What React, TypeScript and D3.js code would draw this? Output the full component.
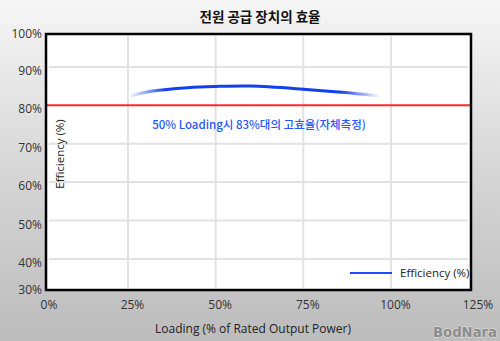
import React from "react";
import * as d3 from "d3";

const loading = [26, 32, 42, 50, 60, 75, 86, 96];
const efficiency = [82.5, 83.7, 84.6, 84.9, 85.0, 84.2, 83.4, 82.5];
const xTicks = [0, 25, 50, 75, 100, 125];
const yTicks = [30, 40, 50, 60, 70, 80, 90, 100];
const threshold = 80;
const title = "전원 공급 장치의 효율";
const note = "50% Loading시 83%대의 고효율(자체측정)";
const xTitle = "Loading (% of Rated Output Power)";
const yTitle = "Efficiency (%)";
const legendLabel = "Efficiency (%)";

const W = 500;
const H = 341;
const frame = { x0: 46, x1: 471, y0: 34, y1: 290 };
const font = "'Open Sans', 'Noto Sans', sans-serif";
const krFont = "'Noto Sans CJK KR', 'Open Sans', sans-serif";

export default function App() {
  const x = d3.scaleLinear().domain([0, 125]).range([40.3, 478.6]);
  const y = d3.scaleLinear().domain([30, 100]).range([297.3, 28.5]);
  const pts = loading.map((l, i) => [l, efficiency[i]] as [number, number]);
  const line = d3
    .line<[number, number]>()
    .x((d) => x(d[0]))
    .y((d) => y(d[1]))
    .curve(d3.curveCatmullRom.alpha(0.5));
  const clampX = (v: number) => Math.min(Math.max(v, 49), 478);
  const clampY = (v: number) => Math.min(Math.max(v, 34), 290);

  return (
    <svg
      width={W}
      height={H}
      style={{ position: "absolute", left: 0, top: 0 }}
      xmlns="http://www.w3.org/2000/svg"
    >
      <defs>
        <linearGradient id="bg" x1="0" y1="0" x2="0" y2="1">
          <stop offset="0" stopColor="#f6f6f6" />
          <stop offset="0.5" stopColor="#d6d6d6" />
          <stop offset="1" stopColor="#bcbcbc" />
        </linearGradient>
        <linearGradient
          id="curve"
          gradientUnits="userSpaceOnUse"
          x1={x(loading[0])}
          y1={0}
          x2={x(loading[loading.length - 1])}
          y2={0}
        >
          <stop offset="0" stopColor="#1040f0" stopOpacity="0.08" />
          <stop offset="0.14" stopColor="#1040f0" stopOpacity="1" />
          <stop offset="0.85" stopColor="#1040f0" stopOpacity="1" />
          <stop offset="1" stopColor="#1040f0" stopOpacity="0.08" />
        </linearGradient>
      </defs>
      <rect x={0} y={0} width={W} height={H} fill="url(#bg)" />
      <text
        x={260}
        y={22}
        textAnchor="middle"
        fontFamily={krFont}
        fontWeight="bold"
        fontSize={13.5}
        fill="#111"
      >
        {title}
      </text>
      <rect
        x={frame.x0}
        y={frame.y0}
        width={frame.x1 - frame.x0}
        height={frame.y1 - frame.y0}
        fill="#fff"
      />
      {xTicks
        .filter((t) => t > 0 && t < 125)
        .map((t) => (
          <line
            key={"gx" + t}
            x1={x(t)}
            x2={x(t)}
            y1={frame.y0 + 2}
            y2={frame.y1 - 2}
            stroke="#e2e2e2"
            strokeWidth={2}
          />
        ))}
      {yTicks
        .filter((t) => t > 30 && t < 100 && t !== threshold)
        .map((t) => (
          <line
            key={"gy" + t}
            x1={frame.x0 + 3}
            x2={frame.x1 - 3}
            y1={y(t)}
            y2={y(t)}
            stroke="#e2e2e2"
            strokeWidth={2}
          />
        ))}
      <line
        x1={frame.x0 + 1}
        x2={frame.x1 - 1}
        y1={y(threshold)}
        y2={y(threshold)}
        stroke="#ff2a2a"
        strokeWidth={2}
      />
      <path
        d={line(pts) || ""}
        fill="none"
        stroke="url(#curve)"
        strokeWidth={3}
        strokeLinecap="round"
      />
      <text
        x={259}
        y={129}
        textAnchor="middle"
        fontFamily={krFont}
        fontWeight={500}
        fontSize={11.5}
        fill="#2457ff"
      >
        {note}
      </text>
      <text
        transform={`translate(64,154) rotate(-90)`}
        textAnchor="middle"
        fontFamily={font}
        fontSize={11.5}
        fill="#222"
      >
        {yTitle}
      </text>
      <line x1={350} x2={392} y1={273} y2={273} stroke="#1a4cff" strokeWidth={2} />
      <text x={400} y={277} fontFamily={font} fontSize={11.5} fill="#222">
        {legendLabel}
      </text>
      <rect
        x={frame.x0}
        y={frame.y0}
        width={frame.x1 - frame.x0}
        height={frame.y1 - frame.y0}
        fill="none"
        stroke="#000"
        strokeWidth={2.5}
      />
      {yTicks.map((t) => (
        <text
          key={"ty" + t}
          x={42}
          y={clampY(y(t) + 4) + 4}
          textAnchor="end"
          fontFamily={font}
          fontSize={12}
          fill="#333"
        >
          {t}%
        </text>
      ))}
      {xTicks.map((t) => (
        <text
          key={"tx" + t}
          x={clampX(x(t) + 4.5)}
          y={309}
          textAnchor="middle"
          fontFamily={font}
          fontSize={12}
          fill="#333"
        >
          {t}%
        </text>
      ))}
      <text
        x={253}
        y={333}
        textAnchor="middle"
        fontFamily={font}
        fontSize={12}
        fill="#222"
      >
        {xTitle}
      </text>
      <text
        x={433}
        y={337}
        fontFamily="'DejaVu Sans', sans-serif"
        fontWeight="bold"
        fontSize={14}
        textLength={64}
        lengthAdjust="spacingAndGlyphs"
        fill="#8c8c8c"
        stroke="#e8e8e8"
        strokeWidth={0.8}
        paintOrder="stroke"
      >
        BodNara
      </text>
    </svg>
  );
}
